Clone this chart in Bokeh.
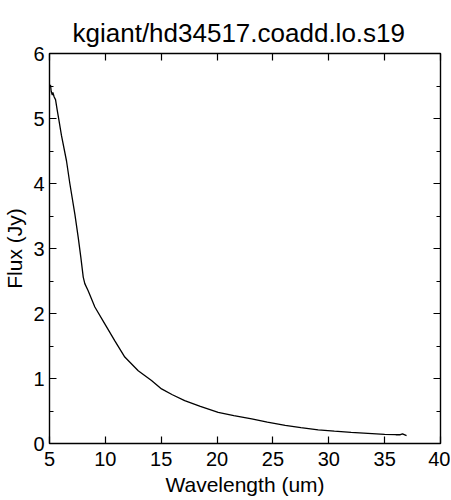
from bokeh.plotting import figure
from bokeh.models import Range1d, LinearAxis, SingleIntervalTicker, Title, CustomJSTickFormatter
from bokeh.embed import file_html
from bokeh.resources import INLINE

title_text = "kgiant/hd34517.coadd.lo.s19"
x_label = "Wavelength (um)"
y_label = "Flux (Jy)"

wavelength = [5.09, 5.15, 5.25, 5.30, 5.42, 5.54, 5.69, 5.84, 6.07, 6.52, 6.82, 7.27,
              7.57, 7.80, 8.02, 8.16, 8.46, 9.06, 9.95, 10.85, 11.74, 12.94, 14.13,
              15.03, 16.0, 17.1, 18.5, 20.1, 21.5, 23.1, 24.5, 26.1, 27.5, 29.05,
              30.5, 32.0, 33.5, 35.0, 36.0, 36.4, 36.6, 36.96]
flux = [5.52, 5.42, 5.36, 5.40, 5.33, 5.29, 5.13, 4.98, 4.74, 4.35, 4.00, 3.53,
        3.17, 2.87, 2.56, 2.46, 2.35, 2.10, 1.84, 1.58, 1.33, 1.12, 0.97,
        0.84, 0.75, 0.66, 0.57, 0.48, 0.43, 0.38, 0.33, 0.28, 0.245, 0.21,
        0.19, 0.17, 0.155, 0.14, 0.135, 0.135, 0.148, 0.12]

FONT = "Liberation Sans"

p = figure(frame_width=391, frame_height=390, output_backend="svg", toolbar_location=None,
           x_range=Range1d(5, 40), y_range=Range1d(0, 6))
p.min_border_left = 48
p.min_border_right = 10
p.min_border_top = 53
p.min_border_bottom = 30
p.grid.visible = False
p.outline_line_color = "black"
p.outline_line_width = 1.4
p.background_fill_color = "white"
p.border_fill_color = "white"

p.title = Title(text=title_text, align="left", offset=23, vertical_align="top",
                text_font=FONT, text_font_size="26px", text_font_style="normal",
                text_color="black", standoff=8)


def style(ax, labels=True):
    ax.axis_line_color = None
    ax.major_tick_in = 7
    ax.major_tick_out = 0
    ax.minor_tick_in = 4
    ax.minor_tick_out = 0
    ax.major_tick_line_color = "black"
    ax.minor_tick_line_color = "black"
    ax.major_tick_line_width = 1.2
    ax.minor_tick_line_width = 1.2
    if labels:
        ax.major_label_text_font = FONT
        ax.major_label_text_font_size = "20px"
        ax.major_label_text_color = "black"
        ax.axis_label_text_font = FONT
        ax.axis_label_text_font_size = "21px"
        ax.axis_label_text_font_style = "normal"
        ax.axis_label_text_color = "black"
    else:
        ax.formatter = CustomJSTickFormatter(code="return ''")
        ax.major_label_text_color = None
        ax.major_label_standoff = 0


xa = p.xaxis[0]
xa.ticker = SingleIntervalTicker(interval=5, num_minor_ticks=0)
xa.axis_label = x_label
style(xa)
xa.major_label_standoff = 8
xa.axis_label_standoff = 4

ya = p.yaxis[0]
ya.ticker = SingleIntervalTicker(interval=1, num_minor_ticks=2)
ya.axis_label = y_label
style(ya)
ya.major_label_standoff = 5
ya.axis_label_standoff = 4

top = LinearAxis(ticker=SingleIntervalTicker(interval=5, num_minor_ticks=0))
style(top, labels=False)
p.add_layout(top, "above")
right = LinearAxis(ticker=SingleIntervalTicker(interval=1, num_minor_ticks=2))
style(right, labels=False)
p.add_layout(right, "right")

p.line(wavelength, flux, line_color="black", line_width=1.3)

open("out.html", "w").write(file_html(p, INLINE))
